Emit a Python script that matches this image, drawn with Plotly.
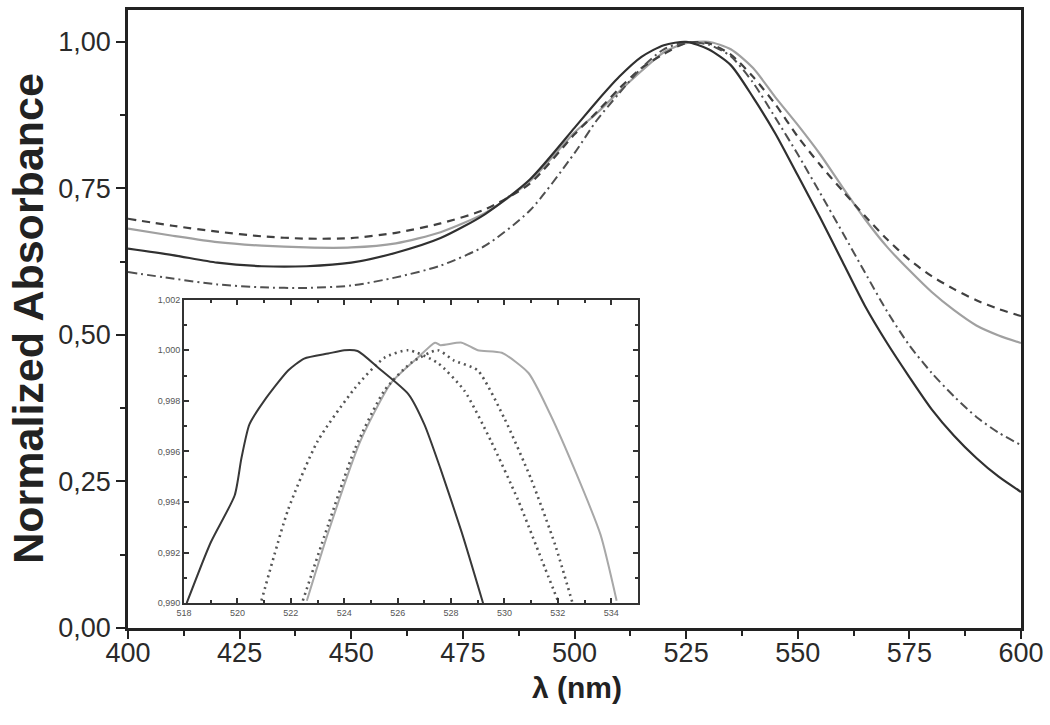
import plotly.graph_objects as go

# ---------------- main spectra ----------------
lam = [400, 410, 420, 430, 440, 450, 460, 470, 480, 490, 500, 505, 510, 515, 520,
       525, 530, 535, 540, 545, 550, 555, 560, 565, 570, 575, 580, 585, 590, 595, 600]

black_solid = [0.647, 0.636, 0.623, 0.617, 0.617, 0.623, 0.640, 0.665, 0.706, 0.765, 0.853,
               0.898, 0.940, 0.974, 0.994, 0.9997, 0.987, 0.960, 0.905, 0.843, 0.772, 0.700,
               0.625, 0.550, 0.486, 0.428, 0.373, 0.328, 0.290, 0.258, 0.232]

gray_solid = [0.681, 0.669, 0.658, 0.652, 0.649, 0.649, 0.656, 0.675, 0.708, 0.762, 0.845,
              0.878, 0.915, 0.950, 0.982, 0.9975, 0.9998, 0.987, 0.955, 0.905, 0.858, 0.808,
              0.752, 0.698, 0.650, 0.610, 0.573, 0.542, 0.516, 0.499, 0.486]

dashed = [0.698, 0.686, 0.676, 0.668, 0.664, 0.665, 0.674, 0.690, 0.714, 0.758, 0.842,
          0.880, 0.920, 0.955, 0.979, 0.9978, 0.9973, 0.978, 0.940, 0.893, 0.838, 0.790,
          0.746, 0.703, 0.663, 0.628, 0.600, 0.578, 0.559, 0.544, 0.532]

dash_dot = [0.607, 0.596, 0.586, 0.581, 0.580, 0.584, 0.598, 0.618, 0.652, 0.712, 0.810,
            0.866, 0.912, 0.955, 0.987, 0.9992, 0.995, 0.975, 0.930, 0.870, 0.808, 0.742,
            0.675, 0.607, 0.540, 0.482, 0.435, 0.395, 0.360, 0.333, 0.312]

# ---------------- inset (zoom on the maxima) ----------------
in_black_lam = [518.1, 519.0, 519.9, 520.15, 520.45, 521.0, 521.9, 522.5, 523.4, 524.0,
                524.5, 525.25, 526.4, 527.0, 527.6, 528.4, 529.2]
in_black = [0.9900, 0.9924, 0.99427, 0.99573, 0.99707, 0.9980, 0.9992, 0.99967, 0.99987, 1.0,
            0.99997, 0.99933, 0.99827, 0.99707, 0.99533, 0.9928, 0.9900]

in_dashdot_lam = [520.9, 521.9, 523.0, 524.4, 525.5, 526.4, 527.5, 528.5, 529.5, 530.5, 531.4, 532.0]
in_dashdot = [0.9901, 0.9937, 0.9964, 0.9985, 0.9997, 1.0, 0.9995, 0.9984, 0.9964, 0.9941, 0.9917, 0.9901]

in_dashed_lam = [522.45, 523.4, 524.4, 525.5, 526.5, 527.5, 528.1, 529.0, 530.0, 531.0, 531.9, 532.55]
in_dashed = [0.9901, 0.9931, 0.9961, 0.9984, 0.9995, 1.0, 0.9996, 0.9992, 0.9973, 0.9949, 0.9923, 0.9900]

in_gray_lam = [522.6, 523.4, 524.6, 525.75, 526.75, 527.4, 527.6, 528.4, 529.0, 529.9, 530.9,
               531.7, 532.7, 533.6, 534.2]
in_gray = [0.9901, 0.9928, 0.9964, 0.9987, 0.9997, 1.0003, 1.0002, 1.0003, 1.0, 0.9999, 0.9991,
           0.9975, 0.9951, 0.9927, 0.9901]

main_yticks = [0.0, 0.25, 0.5, 0.75, 1.0]
inset_yticks = [0.990, 0.992, 0.994, 0.996, 0.998, 1.000, 1.002]

fig = go.Figure()

def add_main(y, color, dash, width=2.2):
    fig.add_trace(go.Scatter(x=lam, y=y, mode="lines",
                             line=dict(color=color, dash=dash, width=width, shape="spline", smoothing=0.7),
                             xaxis="x", yaxis="y", showlegend=False, hoverinfo="skip"))

add_main(gray_solid, "#a0a0a0", "solid")
add_main(dashed, "#404040", "8px,6px")
add_main(dash_dot, "#505050", "9px,4px,2px,4px", 2.0)
add_main(black_solid, "#303030", "solid")

def add_inset(x, y, color, dash, width=2.0):
    fig.add_trace(go.Scatter(x=x, y=y, mode="lines",
                             line=dict(color=color, dash=dash, width=width, shape="spline", smoothing=0.6),
                             xaxis="x2", yaxis="y2", showlegend=False, hoverinfo="skip"))

add_inset(in_gray_lam, in_gray, "#a8a8a8", "solid")
add_inset(in_dashdot_lam, in_dashdot, "#555555", "2px,4px", 2.6)
add_inset(in_dashed_lam, in_dashed, "#555555", "2px,4px", 2.6)
add_inset(in_black_lam, in_black, "#383838", "solid")

tick_font = dict(family="Liberation Sans, Arial, sans-serif", size=27, color="#2a2a2a")
inset_font = dict(family="Liberation Sans, Arial, sans-serif", size=9, color="#555555")

fig.update_layout(
    width=1050, height=725,
    margin=dict(l=128, r=29, t=5, b=97),
    paper_bgcolor="white", plot_bgcolor="white",
    separators=",.",
    xaxis=dict(domain=[0, 1], range=[400, 600], tickmode="linear", tick0=400, dtick=25,
               ticks="outside", ticklen=8, tickwidth=2, tickcolor="#222",
               minor=dict(ticks="outside", ticklen=5, tickwidth=2, tickcolor="#222", dtick=12.5, tick0=400),
               showline=True, linewidth=2.5, linecolor="#222", mirror=True,
               showgrid=False, zeroline=False, tickfont=tick_font, ticklabelstandoff=-9),
    yaxis=dict(domain=[0, 1], range=[0, 1.054], tickvals=main_yticks, tickformat=".2f",
               ticks="outside", ticklen=9, tickwidth=2, tickcolor="#222",
               minor=dict(ticks="outside", ticklen=5, tickwidth=2, tickcolor="#222", dtick=0.125, tick0=0),
               showline=True, linewidth=2.5, linecolor="#222", mirror=True,
               showgrid=False, zeroline=False, tickfont=tick_font),
    xaxis2=dict(domain=[0.0627, 0.5711], anchor="y2", range=[518, 535], tickmode="linear",
                tick0=518, dtick=2, ticks="inside", ticklen=5, tickwidth=1.5, tickcolor="#333",
                minor=dict(ticks="inside", ticklen=3, tickwidth=1.5, tickcolor="#333", dtick=1, tick0=518),
                showline=True, linewidth=2, linecolor="#333", mirror="ticks",
                showgrid=False, zeroline=False, tickfont=inset_font),
    yaxis2=dict(domain=[0.0401, 0.5313], anchor="x2", range=[0.990, 1.002], tickvals=inset_yticks,
                tickformat=".3f", ticks="inside", ticklen=5, tickwidth=1.5, tickcolor="#333",
                minor=dict(ticks="inside", ticklen=3, tickwidth=1.5, tickcolor="#333", dtick=0.001, tick0=0.990),
                showline=True, linewidth=2, linecolor="#333", mirror="ticks",
                showgrid=False, zeroline=False, tickfont=inset_font),
)

fig.add_annotation(text="<b>Normalized Absorbance</b>", textangle=-90, xref="paper", yref="paper",
                   x=-0.112, y=0.502, xanchor="center", yanchor="middle", showarrow=False,
                   font=dict(family="Liberation Sans, Arial, sans-serif", size=43, color="#222"))
fig.add_annotation(text="<b>λ (nm)</b>", xref="paper", yref="paper",
                   x=0.503, y=-0.097, xanchor="center", yanchor="middle", showarrow=False,
                   font=dict(family="Liberation Sans, Arial, sans-serif", size=30, color="#222"))

fig.write_html("out.html", config={"displayModeBar": False},
               post_script="document.body.style.margin='0px';document.body.style.overflow='hidden';")
